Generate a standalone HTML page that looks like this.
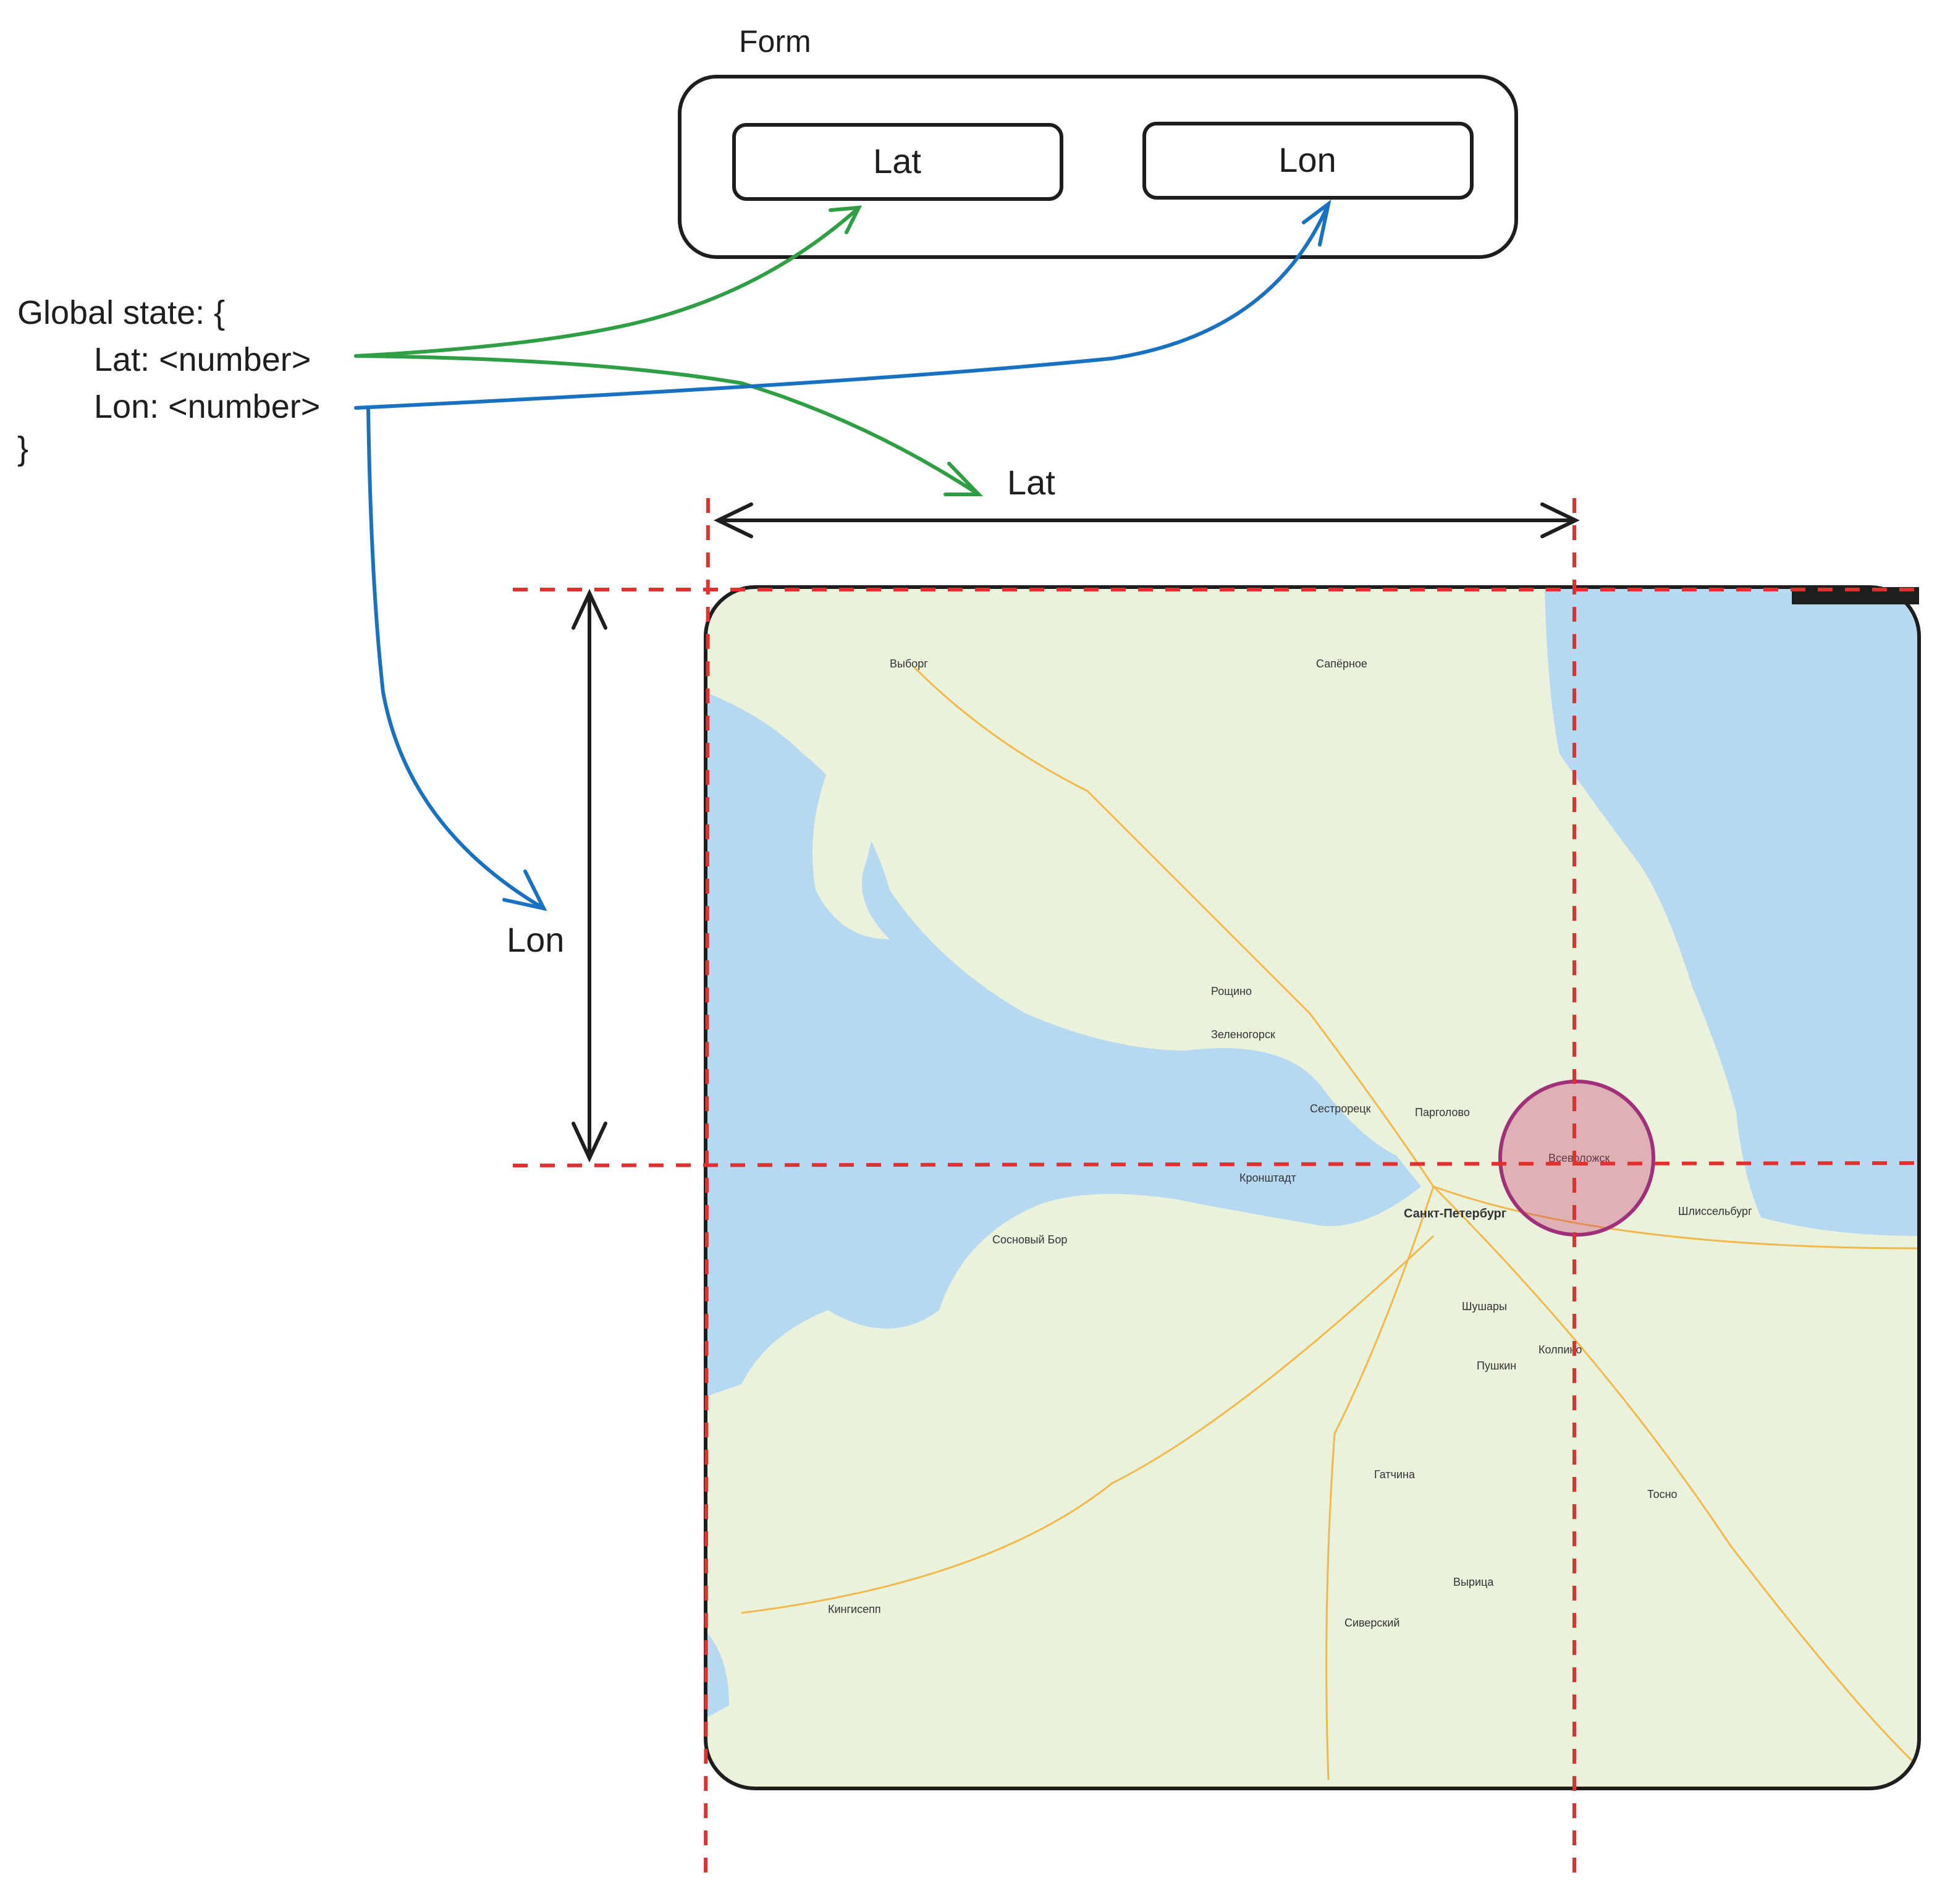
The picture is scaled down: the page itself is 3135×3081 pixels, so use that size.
<!DOCTYPE html>
<html><head><meta charset="utf-8"><style>
html,body{margin:0;padding:0;background:#fff;}
svg{display:block;}
text{font-family:"Liberation Sans","DejaVu Sans",sans-serif;}
</style></head><body>
<svg width="3135" height="3081" viewBox="0 0 1567.5 1540.5" xmlns="http://www.w3.org/2000/svg">
<defs>
<clipPath id="mc"><rect x="571" y="475" width="982" height="972" rx="40"/></clipPath>
</defs>
<rect width="1567.5" height="1540.5" fill="#fff"/>
<text x="598" y="42" font-size="25" fill="#1e1e1e">Form</text>
<rect x="550" y="62" width="677" height="146" rx="30" fill="none" stroke="#1e1e1e" stroke-width="3"/>
<rect x="594" y="101" width="265" height="60" rx="10" fill="none" stroke="#1e1e1e" stroke-width="3"/>
<rect x="926" y="100" width="265" height="60" rx="10" fill="none" stroke="#1e1e1e" stroke-width="3"/>
<text x="726" y="140" font-size="28" text-anchor="middle" fill="#1e1e1e">Lat</text>
<text x="1058" y="139" font-size="28" text-anchor="middle" fill="#1e1e1e">Lon</text>
<g font-size="27" fill="#1e1e1e">
<text x="14" y="262">Global state: {</text>
<text x="76" y="300">Lat: &lt;number&gt;</text>
<text x="76" y="338">Lon: &lt;number&gt;</text>
<text x="14" y="372">}</text>
</g>
<g clip-path="url(#mc)">
<rect x="571" y="475" width="982" height="972" fill="#eaf2dc"/>
<path d="M1250 475 L1553 475 L1553 1000 Q1480 1000 1425 985 Q1410 950 1405 900 Q1395 860 1370 800 Q1345 720 1320 690 Q1290 650 1262 610 Q1252 560 1250 475Z" fill="#b6d9f1"/>
<path d="M571 560 Q620 580 650 610 Q700 650 720 720 Q760 780 830 820 Q900 850 960 850 Q1040 840 1070 880 Q1100 920 1130 935 L1150 960 Q1100 1000 1060 990 Q1000 980 950 970 Q880 960 840 975 Q780 1000 760 1060 Q720 1090 670 1060 Q620 1080 600 1120 L571 1130Z" fill="#b6d9f1"/>
<path d="M680 600 Q720 640 700 700 Q690 730 720 760 Q680 760 660 720 Q650 660 680 600Z" fill="#eaf2dc"/>
<path d="M571 1320 Q590 1340 590 1380 L571 1390Z" fill="#b6d9f1"/>
<g stroke="#f2b84b" stroke-width="1.5" fill="none">
<path d="M740 540 Q800 600 880 640 Q960 720 1060 820 Q1120 900 1160 960"/>
<path d="M1160 960 Q1120 1080 1080 1160 Q1070 1300 1075 1440"/>
<path d="M1160 960 Q1300 1100 1400 1250 Q1500 1380 1553 1430"/>
<path d="M1160 960 Q1300 1010 1553 1010"/>
<path d="M600 1305 Q800 1280 900 1200 Q1000 1150 1160 1000"/>
</g>
<g font-size="9" fill="#333">
<text x="1136" y="985" font-weight="bold" font-size="10">Санкт-Петербург</text>
<text x="720" y="540">Выборг</text><text x="1065" y="540">Сапёрное</text>
<text x="1060" y="900">Сестрорецк</text><text x="1145" y="903">Парголово</text>
<text x="980" y="805">Рощино</text><text x="980" y="840">Зеленогорск</text>
<text x="1183" y="1060">Шушары</text><text x="1195" y="1108">Пушкин</text>
<text x="1245" y="1095">Колпино</text><text x="1112" y="1196">Гатчина</text>
<text x="1358" y="983">Шлиссельбург</text><text x="1333" y="1212">Тосно</text>
<text x="670" y="1305">Кингисепп</text><text x="803" y="1006">Сосновый Бор</text>
<text x="1003" y="956">Кронштадт</text><text x="1253" y="940">Всеволожск</text>
<text x="1176" y="1283">Вырица</text><text x="1088" y="1316">Сиверский</text>
</g>
</g>
<rect x="571" y="475" width="982" height="972" rx="40" fill="none" stroke="#1e1e1e" stroke-width="3"/>
<rect x="1450" y="475" width="103" height="14" fill="#1e1e1e"/>
<circle cx="1276" cy="937" r="62" fill="rgba(200,60,110,0.35)" stroke="#a0307a" stroke-width="3"/>
<g stroke="#e03131" stroke-width="3" stroke-dasharray="12 10" fill="none">
<line x1="573" y1="403" x2="571" y2="1525"/>
<line x1="1274" y1="403" x2="1274" y2="1525"/>
<line x1="415" y1="477" x2="1555" y2="477"/>
<line x1="415" y1="943" x2="1555" y2="941"/>
</g>
<g stroke="#1e1e1e" stroke-width="3" fill="none" stroke-linecap="round">
<line x1="581" y1="421" x2="1275" y2="421"/>
<path d="M608 408 L581 421 L608 434"/><path d="M1248 408 L1275 421 L1248 434"/>
<line x1="477" y1="480" x2="477" y2="937"/>
<path d="M464 508 L477 480 L490 508"/><path d="M464 909 L477 937 L490 909"/>
</g>
<text x="815" y="400" font-size="28" fill="#1e1e1e">Lat</text>
<text x="410" y="770" font-size="28" fill="#1e1e1e">Lon</text>
<g stroke="#2f9e44" stroke-width="3" fill="none" stroke-linecap="round">
<path d="M288 288 Q440 280 520 260 Q620 235 695 168"/>
<path d="M672 170 L695 168 L685 188"/>
<path d="M288 288 Q480 290 600 310 Q700 340 792 400"/>
<path d="M768 375 L792 400 L765 400"/>
</g>
<g stroke="#1971c2" stroke-width="3" fill="none" stroke-linecap="round">
<path d="M288 330 Q700 310 900 290 Q1030 270 1075 165"/>
<path d="M1055 180 L1075 165 L1068 198"/>
<path d="M298 330 Q300 470 310 560 Q330 670 440 735"/>
<path d="M425 705 L440 735 L408 728"/>
</g>
</svg>
</body></html>
